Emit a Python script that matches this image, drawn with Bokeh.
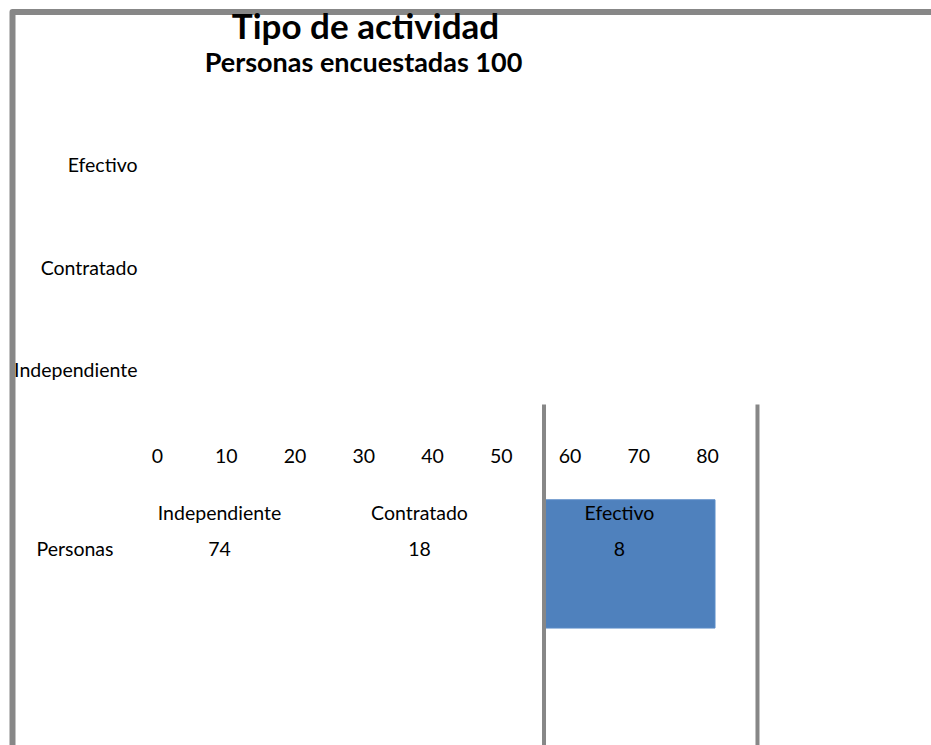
from bokeh.plotting import figure
from bokeh.models import Range1d, Label, ColumnDataSource
from bokeh.core.properties import value
from bokeh.embed import file_html
from bokeh.resources import INLINE

# ---- data ----
title_text = "Tipo de actividad"
subtitle_text = "Personas encuestadas 100"
categories = ["Independiente", "Contratado", "Efectivo"]   # bottom -> top on the chart
x_ticks = [0, 10, 20, 30, 40, 50, 60, 70, 80]
table_columns = ["Independiente", "Contratado", "Efectivo"]
table_values = [74, 18, 8]
series_name = "Personas"
highlight_column = "Efectivo"

FONT = "Lato"
GRAY = "#878787"
BLUE = "#4F81BD"
FS = "19.5px"

W, H = 931, 745
# value scale: 6.875 px per unit, value 0 at 157 px from left
PX_PER_UNIT = 6.875
x0_px = 157
xs = -x0_px / PX_PER_UNIT
xe = xs + W / PX_PER_UNIT
# category scale: 102.5 px per category, index 0 at 369 px from top
PX_PER_CAT = 102.5
y0_px = 369
ye = y0_px / PX_PER_CAT
ys = ye - H / PX_PER_CAT

p = figure(width=W, height=H, output_backend="svg", toolbar_location=None,
           x_range=Range1d(xs, xe), y_range=Range1d(ys, ye),
           min_border=0, min_border_left=0, min_border_right=0,
           min_border_top=0, min_border_bottom=0)
p.axis.visible = False
p.grid.visible = False
p.outline_line_color = None
p.background_fill_color = "white"
p.border_fill_color = "white"

# table coordinates: column j centre at 219 + 200 j px, row r at 512 + 36 r px from top
COL_PX = 200
col0_px = 219
ROW_PX = 36
row0_px = 512
p.extra_x_ranges = {"table": Range1d(-col0_px / COL_PX, (W - col0_px) / COL_PX)}
p.extra_y_ranges = {"table": Range1d((H - row0_px) / ROW_PX, -row0_px / ROW_PX)}

# border (top and left edge of chart area)
bx = xs + 12 / PX_PER_UNIT
by = ye - 11.5 / PX_PER_CAT
p.line(x=[bx, bx, xe + 1], y=[ys - 1, by, by], line_color=GRAY, line_width=6,
       line_join="round")

# highlight cell of table
hi = table_columns.index(highlight_column)
p.quad(left=[hi - 0.37], right=[hi + 0.4775], top=[-0.353], bottom=[3.21],
       x_range_name="table", y_range_name="table",
       fill_color=BLUE, line_color="#5B8CC8", line_width=1)

# vertical gridline remnants
vx = [56.22, 87.27]
p.segment(x0=vx, x1=vx, y0=[-0.341] * 2, y1=[ys - 1] * 2, line_color=GRAY, line_width=4)

# category labels
cat_src = ColumnDataSource(dict(y=list(range(len(categories))), text=categories))
p.text(x=0, y="y", text="text", source=cat_src, x_offset=-20,
       text_align="right", text_baseline="middle",
       text_font=value(FONT), text_font_size=FS, text_color="black")

# x tick labels
tick_src = ColumnDataSource(dict(x=x_ticks, text=[str(t) for t in x_ticks]))
p.text(x="x", y=-0.5, text="text", source=tick_src, y_offset=35,
       text_align="center", text_baseline="middle",
       text_font=value(FONT), text_font_size=FS, text_color="black")

# data table
tab_src = ColumnDataSource(dict(x=list(range(len(table_columns))), head=table_columns,
                                val=[str(v) for v in table_values]))
p.text(x="x", y=0, text="head", source=tab_src, x_range_name="table", y_range_name="table",
       text_align="center", text_baseline="middle",
       text_font=value(FONT), text_font_size=FS, text_color="black")
p.text(x="x", y=1, text="val", source=tab_src, x_range_name="table", y_range_name="table",
       text_align="center", text_baseline="middle",
       text_font=value(FONT), text_font_size=FS, text_color="black")
p.text(x=[0], y=[1], text=[series_name], x_range_name="table", y_range_name="table",
       x_offset=-106, text_align="right", text_baseline="middle",
       text_font=value(FONT), text_font_size=FS, text_color="black")

# titles
p.add_layout(Label(x=365, y=721, x_units="screen", y_units="screen", text=title_text,
                   text_align="center", text_baseline="alphabetic",
                   text_font=FONT, text_font_size="35px", text_font_style="bold",
                   text_color="black"))
p.add_layout(Label(x=363, y=684, x_units="screen", y_units="screen", text=subtitle_text,
                   text_align="center", text_baseline="alphabetic",
                   text_font=FONT, text_font_size="27px", text_font_style="bold",
                   text_color="black"))

open("out.html", "w").write(file_html(p, INLINE))
